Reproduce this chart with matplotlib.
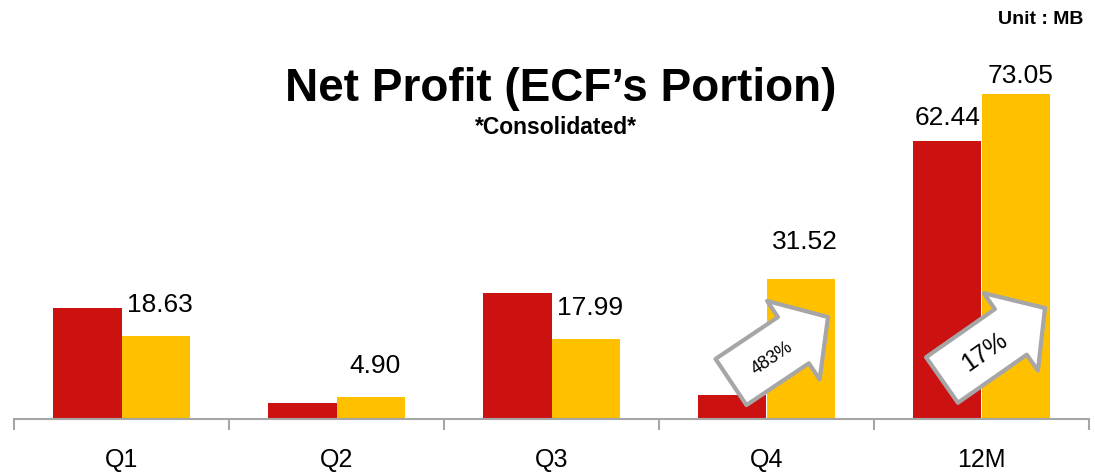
import numpy as np
import matplotlib
matplotlib.use('Agg')
import matplotlib.pyplot as plt

plt.rcParams['font.family'] = ['Liberation Sans', 'DejaVu Sans']

categories = ['Q1', 'Q2', 'Q3', 'Q4', '12M']
prev_year = [24.9, 3.7, 28.3, 5.41, 62.44]
this_year = [18.63, 4.90, 17.99, 31.52, 73.05]
this_labels = ['18.63', '4.90', '17.99', '31.52', '73.05']
prev_labels = ['', '', '', '', '62.44']
growth = ['483%', '17%']

red = '#CC1111'
yellow = '#FFC000'
grey = '#A6A6A6'

fig = plt.figure(figsize=(10.95, 4.74), dpi=100)
ax = fig.add_axes([14 / 1095, 55 / 474, 1075 / 1095, 359 / 474])

x = np.arange(len(categories))
w = 0.32
ax.bar(x - w / 2, prev_year, w, color=red)
ax.bar(x + w / 2, this_year, w, color=yellow)

ax.set_xlim(-0.5, len(categories) - 0.5)
ax.set_ylim(0, 359 / 4.45)

# value labels
offs = [14, 14, 14, 18, 4]
for i in range(len(categories)):
    ax.annotate(this_labels[i], (x[i] + w / 2, this_year[i]), xytext=(3, offs[i]),
                textcoords='offset points', ha='center', va='bottom', fontsize=19)
    if prev_labels[i]:
        ax.annotate(prev_labels[i], (x[i] - w / 2, prev_year[i]), xytext=(0, 8),
                    textcoords='offset points', ha='center', va='bottom', fontsize=19)

for s in ['top', 'right', 'left']:
    ax.spines[s].set_visible(False)
ax.spines['bottom'].set_color(grey)
ax.spines['bottom'].set_linewidth(1.5)
ax.set_yticks([])
ax.set_xticks(np.arange(len(categories) + 1) - 0.5)
ax.set_xticklabels([])
ax.set_xticks(x, minor=True)
ax.set_xticklabels(categories, minor=True, fontsize=18)
ax.tick_params(axis='x', which='major', length=8, width=1.5, color=grey)
ax.tick_params(axis='x', which='minor', length=0, pad=21)

# growth arrows
arrows = [((731, 92), (828, 157), (772, 116), 13, 34),
          ((942, 94), (1045, 166), (985, 122), 18, 35)]
for (tail, tip, tc, fs, ang), g in zip(arrows, growth):
    ax.annotate('', xy=tip, xytext=tail, xycoords='figure pixels', textcoords='figure pixels',
                arrowprops=dict(arrowstyle='simple,head_length=1.5,head_width=3.4,tail_width=2.0',
                                mutation_scale=20, fc='white', ec=grey, lw=3,
                                shrinkA=0, shrinkB=0))
    ax.annotate(g, xy=tc, xycoords='figure pixels', ha='center', va='center',
                rotation=ang, rotation_mode='anchor', fontsize=fs)

fig.text(561 / 1095, 1 - 101 / 474, 'Net Profit (ECF\u2019s Portion)', ha='center', va='baseline',
         fontsize=33, fontweight='bold')
fig.text(556 / 1095, 1 - 134 / 474, '*Consolidated*', ha='center', va='baseline',
         fontsize=16.5, fontweight='bold')
fig.text(1083 / 1095, 1 - 24 / 474, 'Unit : MB', ha='right', va='baseline',
         fontsize=14, fontweight='bold')

fig.savefig('out.png', dpi=100)
